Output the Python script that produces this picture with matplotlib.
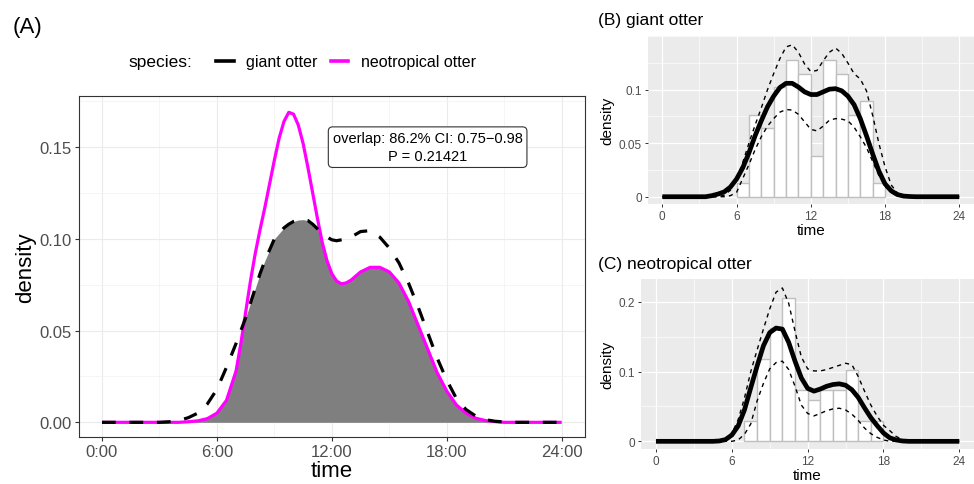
import numpy as np
import matplotlib
matplotlib.use('Agg')
import matplotlib.pyplot as plt
from matplotlib.lines import Line2D
from matplotlib.ticker import MultipleLocator

plt.rcParams['font.family'] = ['Liberation Sans', 'DejaVu Sans']

# time of day in hours: half hours, quarter hours around the peaks in (A)
hours_A = np.r_[0:7:0.5, 7:13:0.25, 13:24.5:0.5]
hours = np.arange(0, 24.5, 0.5)

# (A) overlap plot densities
giant_A = [0, 0, 0, 0, 0, 0, 0,
           0.0003, 0.001, 0.0025, 0.005, 0.010, 0.018, 0.030,
           0.043, 0.050, 0.057, 0.065, 0.073, 0.081, 0.088, 0.094,
           0.100, 0.103, 0.106, 0.108, 0.1095, 0.1103, 0.1105, 0.110,
           0.108, 0.1055, 0.103, 0.101, 0.0995, 0.099, 0.0995, 0.100,
           0.101, 0.104, 0.1045, 0.101, 0.095, 0.087, 0.076, 0.063,
           0.049, 0.035, 0.023, 0.013, 0.007, 0.0035, 0.0015, 0.0006,
           0.0002, 0, 0, 0, 0, 0, 0]
neo_A = [0, 0, 0, 0, 0, 0, 0,
         0, 0, 0.0003, 0.0008, 0.002, 0.005, 0.012,
         0.028, 0.043, 0.060, 0.077, 0.092, 0.105, 0.117, 0.130,
         0.143, 0.155, 0.164, 0.169, 0.168, 0.162, 0.152, 0.139,
         0.125, 0.111, 0.098, 0.088, 0.081, 0.077, 0.0755, 0.076,
         0.0775, 0.082, 0.0845, 0.0845, 0.082, 0.076, 0.066, 0.053,
         0.040, 0.027, 0.017, 0.0095, 0.005, 0.0023, 0.001, 0.0004,
         0, 0, 0, 0, 0, 0, 0]

# (B) giant otter: estimate and confidence band
giant_est = [0, 0, 0, 0, 0, 0, 0,
             0, 0.001, 0.0025, 0.0045, 0.009, 0.0165, 0.027,
             0.041, 0.057, 0.071, 0.084, 0.094, 0.102, 0.106,
             0.106, 0.1025, 0.098, 0.0955, 0.0955, 0.098, 0.1005,
             0.101, 0.099, 0.094, 0.086, 0.073, 0.057, 0.040,
             0.024, 0.012, 0.0055, 0.002, 0.0006, 0.0002, 0,
             0, 0, 0, 0, 0, 0, 0]
giant_hi = [0, 0, 0, 0, 0, 0, 0,
            0, 0, 0, 0.0015, 0.006, 0.016, 0.032,
            0.050, 0.067, 0.083, 0.100, 0.115, 0.129, 0.140,
            0.142, 0.135, 0.124, 0.117, 0.118, 0.127, 0.135,
            0.139, 0.134, 0.125, 0.115, 0.110, 0.099, 0.076,
            0.050, 0.028, 0.011, 0.0035, 0.001, 0, 0,
            0, 0, 0, 0, 0, 0, 0]
giant_lo = [0, 0, 0, 0, 0, 0, 0,
            0, 0, 0, 0, 0.001, 0.004, 0.017,
            0.030, 0.044, 0.056, 0.066, 0.073, 0.079, 0.0815,
            0.081, 0.077, 0.070, 0.063, 0.0615, 0.066, 0.0715,
            0.073, 0.0725, 0.071, 0.065, 0.056, 0.046, 0.033,
            0.020, 0.010, 0.004, 0.001, 0, 0, 0,
            0, 0, 0, 0, 0, 0, 0]
giant_bins = [6, 7, 8, 9, 10, 11, 12, 13, 14, 15, 16, 17]
giant_hist = [0.0128, 0.0766, 0.064, 0.1025, 0.128, 0.115,
              0.0383, 0.128, 0.115, 0.0766, 0.0897, 0.0128]

# (C) neotropical otter: estimate and confidence band
neo_est = [0, 0, 0, 0, 0, 0, 0,
           0, 0, 0, 0.0005, 0.0025, 0.009, 0.022,
           0.045, 0.077, 0.108, 0.137, 0.156, 0.1625, 0.161,
           0.142, 0.115, 0.091, 0.076, 0.072, 0.075, 0.079,
           0.0815, 0.0825, 0.0805, 0.074, 0.063, 0.048, 0.034,
           0.0225, 0.012, 0.005, 0.002, 0.0005, 0, 0,
           0, 0, 0, 0, 0, 0, 0]
neo_hi = [0, 0, 0, 0, 0, 0, 0,
          0, 0, 0, 0, 0.003, 0.011, 0.031,
          0.062, 0.100, 0.131, 0.161, 0.190, 0.214, 0.220,
          0.198, 0.158, 0.121, 0.104, 0.101, 0.101, 0.103,
          0.106, 0.109, 0.112, 0.110, 0.093, 0.072, 0.052,
          0.036, 0.023, 0.0153, 0.007, 0.0025, 0.0005, 0,
          0, 0, 0, 0, 0, 0, 0]
neo_lo = [0, 0, 0, 0, 0, 0, 0,
          0, 0, 0, 0, 0, 0, 0.002,
          0.010, 0.025, 0.058, 0.083, 0.104, 0.113, 0.115,
          0.103, 0.079, 0.052, 0.040, 0.0365, 0.040, 0.044,
          0.0465, 0.0475, 0.045, 0.039, 0.030, 0.019, 0.011,
          0.0057, 0.002, 0, 0, 0, 0, 0,
          0, 0, 0, 0, 0, 0, 0]
neo_bins = [7, 8, 9, 10, 11, 12, 13, 14, 15, 16, 17]
neo_hist = [0.0294, 0.118, 0.162, 0.206, 0.0735, 0.0588,
            0.0735, 0.0735, 0.103, 0.0294, 0.0294]

W, H = 974, 485


def box(l, t, r, b):
    return [l / W, 1 - b / H, (r - l) / W, (b - t) / H]


fig = plt.figure(figsize=(W / 100, H / 100), dpi=100)

# ---- panel A ----
axA = fig.add_axes(box(79, 97, 584.7, 438))
axA.fill_between(hours_A, 0, np.minimum(giant_A, neo_A), color='#7F7F7F', lw=0, zorder=2)
axA.plot(hours_A, neo_A, color='#FF00FF', lw=2.3, zorder=3,
         solid_capstyle='butt', solid_joinstyle='round')
axA.plot(hours_A, giant_A, color='black', lw=2.3, dashes=(4.3, 4.3), zorder=4)
axA.set_xlim(-1.2, 25.2)
axA.set_ylim(-0.008, 0.1779)
axA.set_xticks([0, 6, 12, 18, 24])
axA.set_xticklabels(['0:00', '6:00', '12:00', '18:00', '24:00'])
axA.set_yticks([0, 0.05, 0.10, 0.15])
axA.set_yticklabels(['0.00', '0.05', '0.10', '0.15'])
axA.xaxis.set_minor_locator(MultipleLocator(3))
axA.yaxis.set_minor_locator(MultipleLocator(0.025))
axA.grid(which='major', color='#EBEBEB', lw=0.8, zorder=0)
axA.grid(which='minor', color='#F2F2F2', lw=0.5, zorder=0)
axA.set_axisbelow(True)
for s in axA.spines.values():
    s.set_color('#333333')
    s.set_linewidth(0.8)
axA.tick_params(which='major', length=3, width=0.8, color='#333333',
                labelsize=12, labelcolor='#4D4D4D', pad=2)
axA.tick_params(which='minor', length=0)
axA.set_xlabel('time', fontsize=16, labelpad=1)
axA.set_ylabel('density', fontsize=16, labelpad=3)
axA.text(17, 0.150, 'overlap: 86.2% CI: 0.75\u22120.98\nP = 0.21421',
         ha='center', va='center', fontsize=10.5, linespacing=1.35, zorder=6,
         bbox=dict(boxstyle='round,pad=0.3,rounding_size=0.3', fc='white',
                   ec='#333333', lw=0.8))

fig.text(13 / W, 1 - 28 / H, '(A)', fontsize=16, va='center', ha='left')
fig.text(128 / W, 1 - 63 / H, 'species:', fontsize=12.5, va='center', ha='left')
handles = [Line2D([], [], color='black', lw=2.6),
           Line2D([], [], color='#FF00FF', lw=2.6)]
fig.legend(handles, ['giant otter', 'neotropical otter'], loc='center left',
           bbox_to_anchor=(216 / W, 1 - 63 / H), ncol=2, frameon=False,
           fontsize=11.5, handlelength=1.1, handletextpad=0.8,
           columnspacing=0.8, borderpad=0, borderaxespad=0)


# ---- panels B and C ----
def small_panel(ax, est, lo, hi, bins, hist, yticks, ylabels, ylim, xlim):
    ax.set_facecolor('#EBEBEB')
    ax.bar(bins, hist, width=1, align='edge', color='white',
           edgecolor='#BFBFBF', lw=1.0, zorder=2)
    ax.plot(hours, lo, color='black', lw=1.0, dashes=(3, 3), zorder=3)
    ax.plot(hours, hi, color='black', lw=1.0, dashes=(3, 3), zorder=3)
    ax.plot(hours, est, color='black', lw=3.4, zorder=4,
            solid_capstyle='butt', solid_joinstyle='round')
    ax.set_xlim(*xlim)
    ax.set_ylim(*ylim)
    ax.set_xticks([0, 6, 12, 18, 24])
    ax.set_yticks(yticks)
    ax.set_yticklabels(ylabels)
    ax.xaxis.set_minor_locator(MultipleLocator(3))
    ax.yaxis.set_minor_locator(MultipleLocator(yticks[1] / 2))
    ax.grid(which='major', color='white', lw=0.9, zorder=0)
    ax.grid(which='minor', color='white', lw=0.45, zorder=0)
    ax.set_axisbelow(True)
    for s in ax.spines.values():
        s.set_visible(False)
    ax.tick_params(which='major', length=2.5, width=0.7, color='#333333',
                   labelsize=8.5, labelcolor='#4D4D4D', pad=1.5)
    ax.tick_params(which='minor', length=0)
    ax.set_xlabel('time', fontsize=11, labelpad=1)
    ax.set_ylabel('density', fontsize=11, labelpad=3)


axB = fig.add_axes(box(647.5, 36.7, 974, 205))
small_panel(axB, giant_est, giant_lo, giant_hi, giant_bins, giant_hist,
            [0, 0.05, 0.1], ['0', '0.05', '0.1'], (-0.0068, 0.1505), (-1.196, 25.19))
axC = fig.add_axes(box(640.8, 280, 974, 450))
small_panel(axC, neo_est, neo_lo, neo_hi, neo_bins, neo_hist,
            [0, 0.1, 0.2], ['0', '0.1', '0.2'], (-0.011, 0.2329), (-1.2, 25.16))

fig.text(598 / W, 1 - 20 / H, '(B) giant otter', fontsize=12.5, va='center', ha='left')
fig.text(598 / W, 1 - 265 / H, '(C) neotropical otter', fontsize=12.5, va='center', ha='left')

fig.savefig('out.png', dpi=100)
